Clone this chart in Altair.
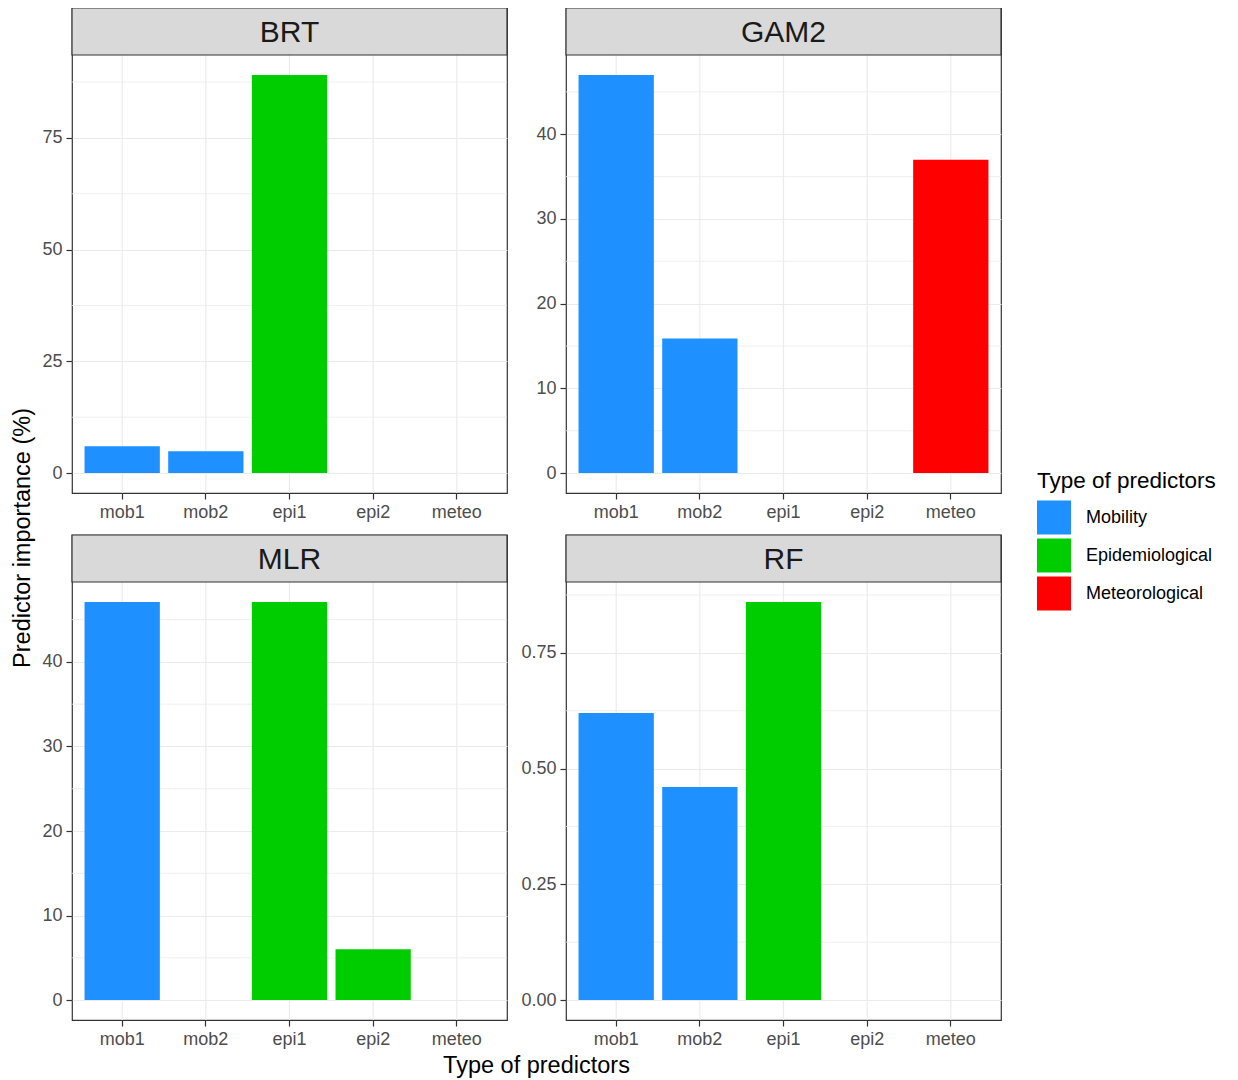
import altair as alt
import pandas as pd

FONT = "Liberation Sans"

categories = ["mob1", "mob2", "epi1", "epi2", "meteo"]
cat_types = ["Mobility", "Mobility", "Epidemiological", "Epidemiological", "Meteorological"]
type_order = ["Mobility", "Epidemiological", "Meteorological"]
type_colors = ["#1E90FF", "#00CD00", "#FF0000"]

brt_values = [6.0, 4.9, 89.1, 0.0, 0.0]
gam2_values = [47.0, 15.9, 0.0, 0.0, 37.0]
mlr_values = [47.1, 0.0, 47.1, 6.0, 0.0]
rf_values = [0.62, 0.46, 0.86, 0.0, 0.0]

brt_major = [0, 25, 50, 75]
brt_minor = [12.5, 37.5, 62.5, 87.5]
gam2_major = [0, 10, 20, 30, 40]
gam2_minor = [5, 15, 25, 35, 45]
mlr_major = [0, 10, 20, 30, 40]
mlr_minor = [5, 15, 25, 35, 45]
rf_major = [0.0, 0.25, 0.5, 0.75]
rf_minor = [0.125, 0.375, 0.625, 0.875]

W = 435   # plot area width
PH = 438  # plot area height (below the strip)
SH = 47   # strip height
HGAP = 59
VGAP = 42
GRID = "#EBEBEB"


def text_layer(text, size, x, y, angle=0):
    return (
        alt.Chart(pd.DataFrame({"t": [text]}))
        .mark_text(font=FONT, fontSize=size, color="#000000", baseline="middle", align="center", angle=angle)
        .encode(text="t:N", x=alt.value(x), y=alt.value(y))
    )


def build_panel(name, values, majors, minors, fmt, extras=()):
    df = pd.DataFrame({"cat": categories, "value": values, "type": cat_types})
    top = max(values)
    # ggplot-like 5% expansion, plot area sits below the strip
    yscale = alt.Scale(domain=[-0.05 * top, 1.05 * top], nice=False, zero=False, range=[SH + PH, SH])
    xscale = alt.Scale(domain=categories, paddingInner=0.1, paddingOuter=0.15)

    minor_rules = (
        alt.Chart(pd.DataFrame({"minor": minors}))
        .mark_rule(color=GRID, strokeWidth=0.8)
        .encode(y=alt.Y("minor:Q", scale=yscale, axis=None))
    )
    cat_rules = (
        alt.Chart(pd.DataFrame({"cat": categories}))
        .mark_rule(color=GRID, strokeWidth=1.2)
        .encode(x=alt.X("cat:N", scale=xscale, axis=None), y=alt.value(SH), y2=alt.value(SH + PH))
    )

    bars = (
        alt.Chart(df)
        .mark_bar()
        .encode(
            x=alt.X(
                "cat:N",
                sort=categories,
                title=None,
                scale=xscale,
                axis=alt.Axis(labelAngle=0, grid=False, bandPosition=0.5),
            ),
            y=alt.Y("value:Q", scale=yscale, title=None, axis=alt.Axis(values=majors, format=fmt, grid=True)),
            y2=alt.datum(0),
            color=alt.Color(
                "type:N",
                scale=alt.Scale(domain=type_order, range=type_colors),
                legend=alt.Legend(
                    title="Type of predictors",
                    orient="none",
                    legendX=965,
                    legendY=462,
                    symbolType="square",
                    symbolSize=1156,
                    symbolStrokeWidth=0,
                    symbolOpacity=1,
                    rowPadding=4,
                    labelOffset=15,
                    titlePadding=8,
                    labelFontSize=18,
                    labelColor="#000000",
                    titleFontSize=22.5,
                    titleFontWeight="normal",
                    titleColor="#000000",
                ),
            ),
        )
    )

    strip_df = pd.DataFrame({"label": [name]})
    strip_box = (
        alt.Chart(strip_df)
        .mark_rect(fill="#D9D9D9", stroke="#333333", strokeWidth=1.2)
        .encode(x=alt.value(0), x2=alt.value(W), y=alt.value(0), y2=alt.value(SH))
    )
    strip_text = (
        alt.Chart(strip_df)
        .mark_text(font=FONT, fontSize=30, color="#1A1A1A", baseline="middle", align="center")
        .encode(text="label:N", x=alt.value(W / 2), y=alt.value(SH / 2 + 1))
    )

    return (
        alt.layer(minor_rules, cat_rules, bars, strip_box, strip_text, *extras)
        .resolve_axis(x="independent", y="independent")
        .properties(width=W, height=SH + PH)
    )


y_title = text_layer("Predictor importance (%)", 23.5, -49, 530, angle=270)
x_title = text_layer("Type of predictors", 23.5, (2 * W + HGAP) / 2, SH + PH + 46)

p_brt = build_panel("BRT", brt_values, brt_major, brt_minor, "d", extras=[y_title])
p_gam2 = build_panel("GAM2", gam2_values, gam2_major, gam2_minor, "d")
p_mlr = build_panel("MLR", mlr_values, mlr_major, mlr_minor, "d", extras=[x_title])
p_rf = build_panel("RF", rf_values, rf_major, rf_minor, ".2f")

chart = (
    alt.concat(p_brt, p_gam2, p_mlr, p_rf, columns=2, spacing={"row": VGAP, "column": HGAP}, bounds="flush")
    .properties(padding={"left": 2, "top": -2, "right": 0, "bottom": 0})
    .configure(font=FONT)
    .configure_view(stroke="#333333", strokeWidth=1.2, fill="white")
    .configure_axis(
        domain=False,
        labelFont=FONT,
        labelFontSize=18,
        labelColor="#4D4D4D",
        labelPadding=4,
        tickColor="#333333",
        tickSize=6,
        tickWidth=1.2,
        gridColor=GRID,
        gridWidth=1.2,
    )
    .configure_legend(labelFont=FONT, titleFont=FONT)
)

chart.save("out.html", embed_options={"renderer": "svg", "actions": False})
